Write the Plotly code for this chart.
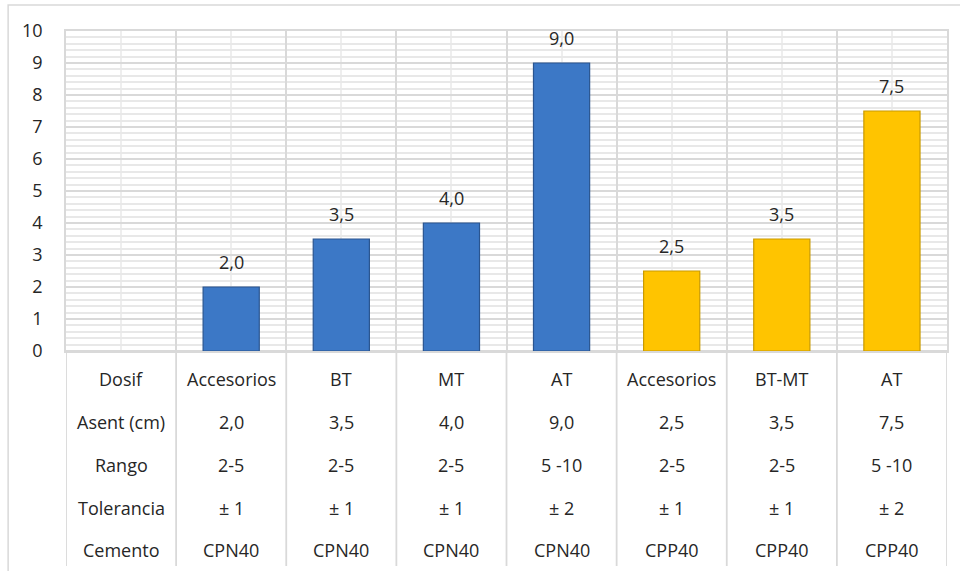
import plotly.graph_objects as go

row_headers = ["Dosif", "Asent (cm)", "Rango", "Tolerancia", "Cemento"]
dosif = ["Accesorios", "BT", "MT", "AT", "Accesorios", "BT-MT", "AT"]
asent = [2.0, 3.5, 4.0, 9.0, 2.5, 3.5, 7.5]
rango = ["2-5", "2-5", "2-5", "5 -10", "2-5", "2-5", "5 -10"]
tolerancia = ["± 1", "± 1", "± 1", "± 2", "± 1", "± 1", "± 2"]
cemento = ["CPN40", "CPN40", "CPN40", "CPN40", "CPP40", "CPP40", "CPP40"]
y_ticks = list(range(0, 11))

BLUE = "#3c78c6"
BLUE_LINE = "#2a5590"
GOLD = "#ffc400"
GOLD_LINE = "#c99a00"
colors = [BLUE if c == "CPN40" else GOLD for c in cemento]
lines = [BLUE_LINE if c == "CPN40" else GOLD_LINE for c in cemento]

FONT = "Open Sans"
FS = 18
TXT = "#262626"
GRID = "#d9d9d9"
MINOR = "#e8e8e8"
VMINOR = "#eeeeee"

W, H = 960, 571
L, R, T, B = 66, 11, 31, 220
PH = H - T - B  # plot height px

xs = list(range(1, len(asent) + 1))

fig = go.Figure()
fig.add_trace(go.Bar(
    x=xs, y=asent, width=0.51,
    marker=dict(color=colors, line=dict(color=lines, width=1.2)),
    hoverinfo="skip", showlegend=False,
))

ann = []
# data labels
for x, v in zip(xs, asent):
    ann.append(dict(x=x, y=v, xref="x", yref="y", text=f"{v:.1f}".replace(".", ","),
                    showarrow=False, yanchor="bottom", yshift=11,
                    font=dict(family=FONT, size=FS, color=TXT)))

# data table
row_px = [379, 422, 465, 508, 550]
rows = [dosif, [f"{v:.1f}".replace(".", ",") for v in asent], rango, tolerancia, cemento]
for hdr, vals, py in zip(row_headers, rows, row_px):
    yp = (H - B - py) / PH
    ann.append(dict(x=0, y=yp, xref="x", yref="paper", text=hdr, showarrow=False,
                    yanchor="middle", font=dict(family=FONT, size=FS, color=TXT)))
    for x, t in zip(xs, vals):
        ann.append(dict(x=x, y=yp, xref="x", yref="paper", text=t, showarrow=False,
                        yanchor="middle", font=dict(family=FONT, size=FS, color=TXT)))

shapes = []
bottom = (H - B - 566) / PH
for k in range(len(xs) + 2):
    xb = -0.5 + k
    shapes.append(dict(type="line", xref="x", yref="paper", x0=xb, x1=xb, y0=bottom, y1=0,
                       line=dict(color=GRID, width=1.8), layer="below"))
# outer border
shapes.append(dict(type="rect", xref="paper", yref="paper",
                   x0=(8 - L) / (W - L - R), x1=(965 - L) / (W - L - R),
                   y0=(H - B - 580) / PH, y1=(H - B - 5) / PH,
                   line=dict(color="#d9d9d9", width=1.5), fillcolor="rgba(0,0,0,0)"))

fig.update_layout(
    width=W, height=H,
    margin=dict(l=L, r=R, t=T, b=B),
    paper_bgcolor="white", plot_bgcolor="white",
    font=dict(family=FONT, size=FS, color=TXT),
    annotations=ann, shapes=shapes,
    bargap=0.49,
)
fig.update_xaxes(
    range=[-0.5, len(xs) + 0.5], tick0=-0.5, dtick=1,
    showticklabels=False, showgrid=True, gridcolor=GRID, gridwidth=1.8,
    zeroline=False, showline=True, linecolor=GRID, linewidth=1.8, mirror=True,
    minor=dict(tick0=0, dtick=1, showgrid=True, gridcolor=VMINOR, gridwidth=1.5),
    fixedrange=True,
)
fig.update_yaxes(
    range=[0, 10], tickvals=y_ticks, ticktext=[str(v) for v in y_ticks],
    showgrid=True, gridcolor=GRID, gridwidth=1.8,
    zeroline=True, zerolinecolor=GRID, zerolinewidth=1.8,
    showline=True, linecolor=GRID, linewidth=1.8, mirror=True,
    minor=dict(dtick=0.2, showgrid=True, gridcolor=MINOR, gridwidth=1.5),
    ticklabelstandoff=18, tickfont=dict(family=FONT, size=FS, color=TXT),
    fixedrange=True,
)

fig.write_html("out.html")
